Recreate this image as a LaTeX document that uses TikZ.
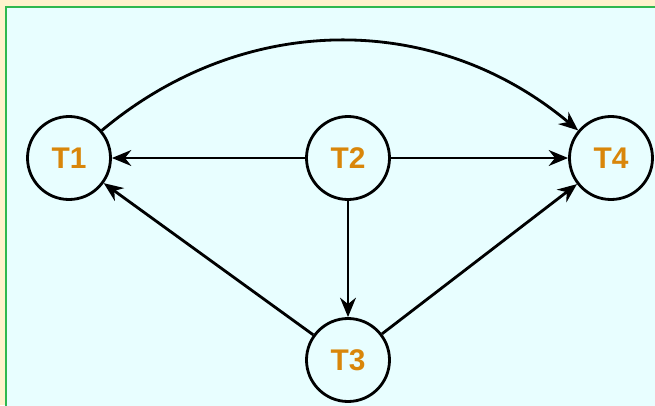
\documentclass[tikz,border=0pt]{standalone}
\usepackage{fontspec}
\setmainfont{Liberation Sans}
\usepackage{xcolor}
\usetikzlibrary{arrows.meta}

\definecolor{paneyellow}{HTML}{FFF2CC}
\definecolor{panecyan}{HTML}{E8FEFF}
\definecolor{panegreen}{HTML}{2FB84F}
\definecolor{taskorange}{HTML}{D9860A}

\tikzset{
    task/.style={circle, draw=black, line width=1.6pt, minimum size=1.66cm, inner sep=0pt,
        font=\fontsize{17}{19}\selectfont\bfseries, text=taskorange},
    dep/.style={-{Stealth[length=11pt, width=9pt]}, line width=1.6pt}
}

\begin{document}
\begin{tikzpicture}
    \useasboundingbox (0,0) rectangle (13.1,8.1);
    % Background pane
    \fill[paneyellow] (0,0) rectangle (13.1,8.1);
    \filldraw[fill=panecyan, draw=panegreen, line width=1.3pt] (0.12,-0.2) rectangle (13.3,7.96);

    % Tasks
    \foreach \name/\pos in {T1/{(1.38,4.94)}, T2/{(6.96,4.94)}, T3/{(6.96,0.9)}, T4/{(12.22,4.94)}} {
        \node[task] (\name) at \pos {\name};
    }

    % Dependencies
    \draw[dep] (T1) to[out=40, in=140] (T4);
    \draw[dep] (T2) -- (T1);
    \draw[dep] (T2) -- (T4);
    \draw[dep] (T2) -- (T3);
    \draw[dep] (T3) -- (T1);
    \draw[dep] (T3) -- (T4);
\end{tikzpicture}
\end{document}
